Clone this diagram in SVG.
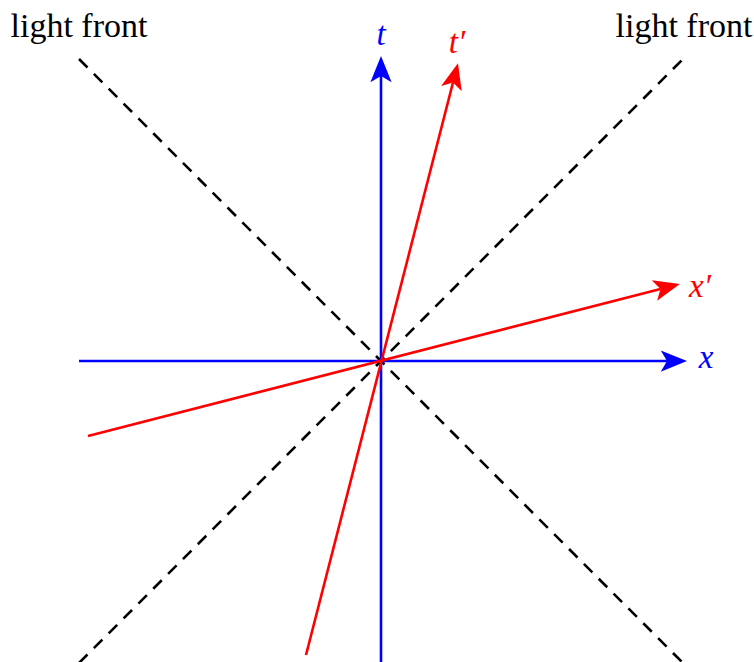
<svg xmlns="http://www.w3.org/2000/svg" width="754" height="662" viewBox="0 0 754 662">
<style>
.light{stroke:#000;stroke-width:2.6;stroke-dasharray:12 9;fill:none}
.blue{stroke:#00f;stroke-width:2.6;fill:none}
.red{stroke:#f00;stroke-width:2.6;fill:none}
.lbl{font-family:"Liberation Serif","DejaVu Serif",serif;font-size:34px;fill:#000}
.math{font-family:"Liberation Serif","DejaVu Serif",serif;font-style:italic;font-size:33px}
</style>
<defs>
<marker id="ab" markerUnits="userSpaceOnUse" markerWidth="30" markerHeight="30" viewBox="-6 -10 24 20" refX="0" refY="0" orient="auto">
<path d="M16,0 L-5,-8.5 L0,0 L-5,8.5 Z" fill="#00f"/>
</marker>
<marker id="ar" markerUnits="userSpaceOnUse" markerWidth="30" markerHeight="30" viewBox="-6 -10 24 20" refX="0" refY="0" orient="auto">
<path d="M16,0 L-5,-8.5 L0,0 L-5,8.5 Z" fill="#f00"/>
</marker>
</defs>
<g id="light-fronts">
<line class="light" x1="79" y1="59" x2="683" y2="663"/>
<line class="light" x1="79" y1="663" x2="683" y2="59"/>
</g>
<g id="connectors">
<line id="x-axis" class="blue" x1="79" y1="361" x2="667" y2="361" marker-end="url(#ab)"/>
<line id="t-axis" class="blue" x1="381" y1="662" x2="381" y2="76" marker-end="url(#ab)"/>
<line id="xp-axis" class="red" x1="88" y1="436" x2="660.5" y2="289" marker-end="url(#ar)"/>
<line id="tp-axis" class="red" x1="306" y1="655" x2="453" y2="82.5" marker-end="url(#ar)"/>
</g>
<g id="labels">
<text class="lbl" x="79" y="37" text-anchor="middle">light front</text>
<text class="lbl" x="684" y="37" text-anchor="middle">light front</text>
<text class="math" x="381" y="45" text-anchor="middle" fill="#00f">t</text>
<text class="math" x="457" y="53" text-anchor="middle" fill="#f00">t′</text>
<text class="math" x="700" y="297" text-anchor="middle" fill="#f00">x′</text>
<text class="math" x="706" y="368" text-anchor="middle" fill="#00f">x</text>
</g>
</svg>
